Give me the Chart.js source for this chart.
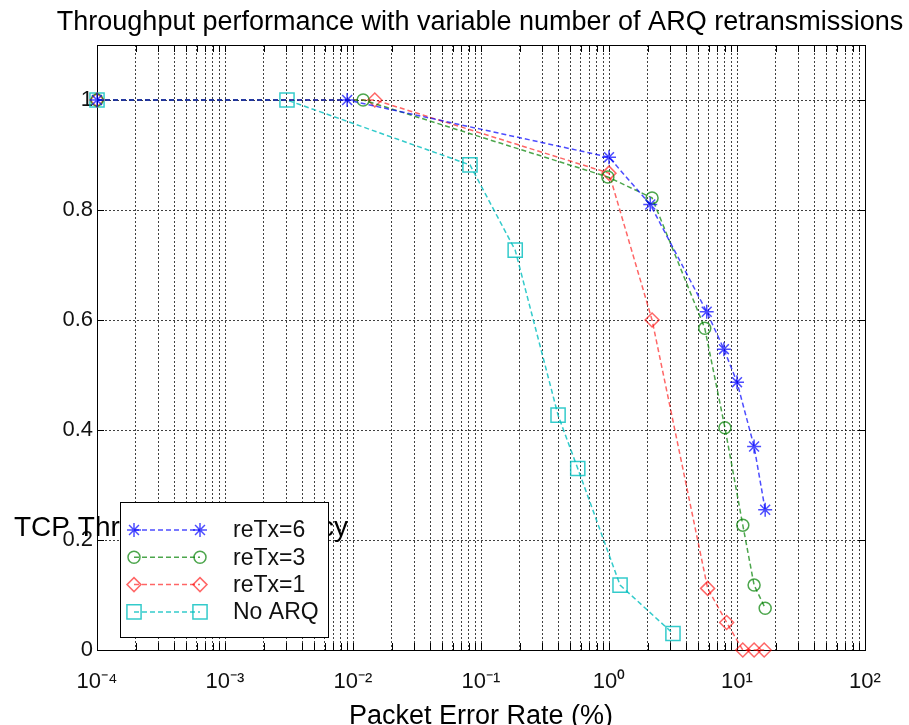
<!DOCTYPE html>
<html>
<head>
<meta charset="utf-8">
<script src="https://cdn.jsdelivr.net/npm/chart.js@4/dist/chart.umd.min.js"></script>
<style>
  html, body { margin: 0; padding: 0; background: #fff; }
</style>
</head>
<body>
<canvas id="arqChart" width="909" height="725"></canvas>
<script>
// packet error rate (%) and throughput efficiency
const perTx6 = [0.0001, 0.009, 1.0, 2.1, 5.8, 7.9, 10, 13.6, 16.6];
const thrTx6 = [1.0, 1.0, 0.896, 0.81, 0.615, 0.547, 0.487, 0.37, 0.255];
const perTx3 = [0.0001, 0.012, 0.98, 2.17, 5.6, 8.05, 11.1, 13.6, 16.6];
const thrTx3 = [1.0, 1.0, 0.86, 0.822, 0.585, 0.404, 0.227, 0.118, 0.076];
const perTx1 = [0.0001, 0.0148, 1.0, 2.17, 5.9, 8.3, 11.1, 13.6, 16.3];
const thrTx1 = [1.0, 1.0, 0.867, 0.6, 0.112, 0.05, 0, 0, 0];
const perNoArq = [0.0001, 0.00305, 0.082, 0.185, 0.40, 0.57, 1.22, 3.16];
const thrNoArq = [1.0, 1.0, 0.882, 0.727, 0.427, 0.33, 0.118, 0.03];

const seriesNames = ['reTx=6', 'reTx=3', 'reTx=1', 'No ARQ'];

const xDecades = [-4, -3, -2, -1, 0, 1, 2];
const xTickLabels = ['10\u207B\u2074', '10\u207B\u00B3', '10\u207B\u00B2', '10\u207B\u00B9', '10\u2070', '10\u00B9', '10\u00B2'];
const yTicks = [0, 0.2, 0.4, 0.6, 0.8, 1];
const yTickLabels = ['0', '0.2', '0.4', '0.6', '0.8', '1'];

const chartTitle = 'Throughput performance with variable number of ARQ retransmissions';
const xTitle = 'Packet Error Rate (%)';
const yTitle = 'TCP Throughput Efficiency';

const FONT = '"Liberation Sans", Arial, Helvetica, sans-serif';

// every 1..9 x 10^n tick for the log grid
const xGridTicks = [];
xDecades.forEach((d, i) => {
  const mults = i === xDecades.length - 1 ? [1] : [1, 2, 3, 4, 5, 6, 7, 8, 9];
  mults.forEach(m => xGridTicks.push(m * Math.pow(10, d)));
});

function toPoints(xs, ys) {
  return xs.map((x, i) => ({ x: x, y: ys[i] }));
}

function makeSeries(label, xs, ys, color, style, radius) {
  return {
    label: label,
    data: toPoints(xs, ys),
    borderColor: color,
    backgroundColor: 'rgba(0,0,0,0)',
    pointBorderColor: color,
    pointBackgroundColor: 'rgba(0,0,0,0)',
    pointStyle: style,
    pointRadius: radius,
    pointBorderWidth: 1.5,
    borderWidth: 1.5,
    borderDash: [5, 3],
    tension: 0,
    fill: false,
    clip: false
  };
}

const datasets = [
  makeSeries(seriesNames[0], perTx6, thrTx6, 'rgba(0,0,255,0.7)', 'star', 7),
  makeSeries(seriesNames[1], perTx3, thrTx3, 'rgba(0,128,0,0.7)', 'circle', 6),
  makeSeries(seriesNames[2], perTx1, thrTx1, 'rgba(255,0,0,0.6)', 'rectRot', 7),
  makeSeries(seriesNames[3], perNoArq, thrNoArq, 'rgba(0,190,190,0.8)', 'rect', 10)
];

// box, inward ticks, horizontal axis titles and the in-plot legend
const matlabLook = {
  id: 'matlabLook',
  beforeDatasetsDraw(chart) {
    const { ctx, chartArea: a, scales } = chart;
    ctx.save();
    ctx.strokeStyle = '#000';
    ctx.lineWidth = 1;
    ctx.beginPath();
    scales.x.ticks.forEach(t => {
      const px = Math.round(scales.x.getPixelForValue(t.value)) + 0.5;
      ctx.moveTo(px, a.bottom); ctx.lineTo(px, a.bottom - 7);
      ctx.moveTo(px, a.top); ctx.lineTo(px, a.top + 7);
    });
    scales.y.ticks.forEach(t => {
      const py = Math.round(scales.y.getPixelForValue(t.value)) + 0.5;
      ctx.moveTo(a.left, py); ctx.lineTo(a.left + 7, py);
      ctx.moveTo(a.right, py); ctx.lineTo(a.right - 7, py);
    });
    ctx.stroke();
    ctx.strokeRect(Math.round(a.left) + 0.5, Math.round(a.top) + 0.5,
      Math.round(a.right - a.left), Math.round(a.bottom - a.top));

    ctx.fillStyle = '#000';
    ctx.font = '28px ' + FONT;
    ctx.textAlign = 'left';
    ctx.textBaseline = 'middle';
    ctx.fillText(yTitle, 14, 528);
    ctx.font = '27px ' + FONT;
    ctx.textAlign = 'center';
    ctx.textBaseline = 'alphabetic';
    ctx.fillText(xTitle, (a.left + a.right) / 2, 724);
    ctx.restore();
  },
  afterDatasetsDraw(chart) {
    const { ctx, chartArea: a } = chart;
    const boxX = a.left + 23, boxY = 502, boxW = 208, boxH = 135;
    ctx.save();
    ctx.fillStyle = '#fff';
    ctx.fillRect(boxX, boxY, boxW, boxH);
    ctx.strokeStyle = '#000';
    ctx.lineWidth = 1;
    ctx.setLineDash([]);
    ctx.strokeRect(boxX + 0.5, boxY + 0.5, boxW, boxH);

    chart.data.datasets.forEach((ds, i) => {
      const y = boxY + 28 + i * 27.3;
      const x0 = boxX + 14, x1 = boxX + 80;
      ctx.strokeStyle = ds.borderColor;
      ctx.lineWidth = ds.borderWidth;
      ctx.setLineDash(ds.borderDash);
      ctx.beginPath();
      ctx.moveTo(x0, y); ctx.lineTo(x1, y);
      ctx.stroke();
      ctx.setLineDash([]);
      if (Chart.helpers && Chart.helpers.drawPoint) {
        ctx.fillStyle = ds.pointBackgroundColor;
        ctx.strokeStyle = ds.pointBorderColor;
        ctx.lineWidth = ds.pointBorderWidth;
        const opts = { pointStyle: ds.pointStyle, radius: ds.pointRadius, rotation: 0, borderWidth: ds.pointBorderWidth };
        Chart.helpers.drawPoint(ctx, opts, x0, y);
        Chart.helpers.drawPoint(ctx, opts, x1, y);
      }
      ctx.fillStyle = '#111';
      ctx.font = '23px ' + FONT;
      ctx.textAlign = 'left';
      ctx.textBaseline = 'middle';
      ctx.fillText(ds.label, boxX + 113, y + 1);
    });
    ctx.restore();
  }
};

const gridStyle = { color: 'rgba(0,0,0,0.75)', lineWidth: 1, drawTicks: false };
const gridDash = { display: false, dash: [2, 2] };

const ctx = document.getElementById('arqChart').getContext('2d');
const chart = new Chart(ctx, {
  type: 'line',
  data: { datasets: datasets },
  plugins: [matlabLook],
  options: {
    responsive: false,
    animation: false,
    layout: { padding: { left: 55, right: 4, top: 0, bottom: 0 } },
    plugins: {
      legend: { display: false },
      tooltip: { enabled: false },
      title: {
        display: true,
        text: chartTitle,
        color: '#000',
        font: { family: FONT, size: 27, weight: 'normal' },
        padding: { top: 6, bottom: 6.6 }
      }
    },
    scales: {
      x: {
        type: 'logarithmic',
        min: 1e-4,
        max: 1e2,
        afterBuildTicks: scale => { scale.ticks = xGridTicks.map(v => ({ value: v })); },
        afterFit: scale => { scale.height = 75; },
        grid: gridStyle,
        border: gridDash,
        ticks: {
          autoSkip: false,
          maxRotation: 0,
          padding: 19,
          color: '#111',
          font: { family: FONT, size: 22 },
          callback: value => {
            const i = xDecades.findIndex(d => Math.abs(Math.log10(value) - d) < 1e-6);
            return i >= 0 ? xTickLabels[i] : '';
          }
        }
      },
      y: {
        type: 'linear',
        position: 'left',
        min: 0,
        max: 1.1,
        afterBuildTicks: scale => { scale.ticks = yTicks.map(v => ({ value: v })); },
        afterFit: scale => { scale.width = 42; },
        grid: gridStyle,
        border: gridDash,
        ticks: {
          padding: 4,
          color: '#111',
          font: { family: FONT, size: 22 },
          callback: (value, index) => yTickLabels[index]
        }
      },
      // empty right-hand axis, only reserves the margin right of the plot box
      yRight: {
        type: 'linear',
        position: 'right',
        min: 0,
        max: 1.1,
        afterFit: scale => { scale.width = 40; },
        grid: { display: false, drawTicks: false },
        border: { display: false },
        ticks: { display: false }
      }
    }
  }
});
</script>
</body>
</html>
